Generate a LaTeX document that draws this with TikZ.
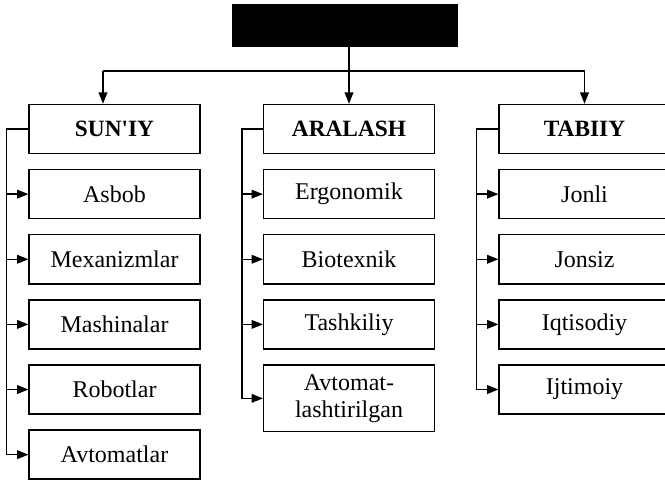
\documentclass[tikz,border=0pt]{standalone}
\usepackage{fontspec}
\setmainfont{Liberation Serif}
\usetikzlibrary{positioning,arrows.meta}
\tikzset{
  box/.style={draw,line width=1.1pt,minimum width=128pt,minimum height=36.75pt,
    inner sep=2pt,align=center,font=\fontsize{18}{20.5}\selectfont},
  head/.style={box,font=\fontsize{17.5}{20.5}\selectfont\bfseries},
  ln/.style={line width=1.1pt},
  arr/.style={ln,-{Triangle[length=8.5pt,width=6.5pt]}}
}
\begin{document}
\begin{tikzpicture}[x=0.75pt,y=0.75pt,node distance=11pt]
\useasboundingbox (0,0) rectangle (665,483);
\clip (0,0) rectangle (665,483);

\node[fill=black,draw,minimum width=168.75pt,minimum height=31.5pt] (root) at (344.5,458) {};

\node[head] (sun) at (114.5,354) {SUN\textquotesingle IY};
\node[head] (ara) at (349,354) {ARALASH};
\node[head] (tab) at (584.5,354) {TABIIY};

% sun'iy
\node[box,below=of sun] (asbob) {Asbob};
\node[box,below=of asbob] (mex) {Mexanizmlar};
\node[box,below=of mex] (mash) {Mashinalar};
\node[box,below=of mash] (rob) {Robotlar};
\node[box,below=of rob] (avt) {Avtomatlar};

% aralash
\node[box,below=of ara] (ergo) {Ergonomik};
\node[box,below=of ergo] (bio) {Biotexnik};
\node[box,below=of bio] (tash) {Tashkiliy};
\node[box,below=of tash,minimum height=50pt] (avtl) {Avtomat-\\lashtirilgan};

% tabiiy
\node[box,below=of tab] (jonli) {Jonli};
\node[box,below=of jonli] (jons) {Jonsiz};
\node[box,below=of jons] (iqt) {Iqtisodiy};
\node[box,below=of iqt] (ijt) {Ijtimoiy};

% top connectors
\coordinate (busL) at (103,412);
\draw[ln] (busL) -- (busL -| tab.north);
\draw[arr] (busL) -- (busL |- sun.north);
\draw[arr] (root.south -| ara.north) -- (ara.north);
\draw[arr] (busL -| tab.north) -- (tab.north);

% side brackets
\foreach \c in {asbob,mex,mash,rob,avt}
  \draw[arr] (sun.west) -- ++(-22,0) |- (\c.west);
\foreach \c in {ergo,bio,tash,avtl}
  \draw[arr] (ara.west) -- ++(-21,0) |- (\c.west);
\foreach \c in {jonli,jons,iqt,ijt}
  \draw[arr] (tab.west) -- ++(-22,0) |- (\c.west);
\end{tikzpicture}
\end{document}
